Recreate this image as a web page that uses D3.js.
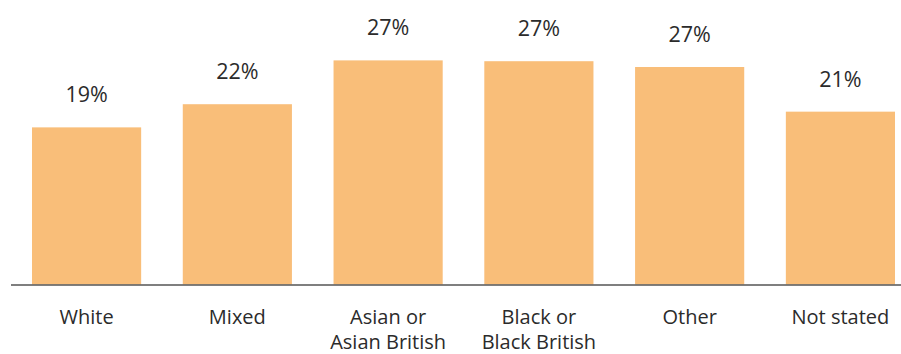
<!DOCTYPE html>
<html><head><meta charset="utf-8">
<script src="https://cdn.jsdelivr.net/npm/d3@7/dist/d3.min.js"></script>
<style>
html,body{margin:0;padding:0;background:#fff;}
svg{display:block;}
text{font-family:"Open Sans","Noto Sans",sans-serif;fill:#2b2b2b;}
</style></head>
<body><svg id="chart" width="901" height="354"></svg>
<script>
const categories = [["White"], ["Mixed"], ["Asian or", "Asian British"], ["Black or", "Black British"], ["Other"], ["Not stated"]];
const values = [19.0, 21.8, 27.1, 27.0, 26.3, 20.9];
const valueLabels = ["19%", "22%", "27%", "27%", "27%", "21%"];

const W = 901, H = 354;
const svg = d3.select("#chart");
const keys = categories.map(c => c.join(" "));

const x = d3.scaleBand().domain(keys).range([32, 895]).paddingInner(0.276).paddingOuter(0);
const y = d3.scaleLinear().domain([0, 30]).range([284.5, 284.5 - 248.1]);

svg.selectAll("rect.bar").data(values).join("rect")
  .attr("class", "bar")
  .attr("x", (d, i) => x(keys[i]))
  .attr("width", x.bandwidth())
  .attr("y", d => y(d))
  .attr("height", d => y(0) - y(d))
  .attr("fill", "#F9BE79");

svg.selectAll("text.val").data(values).join("text")
  .attr("class", "val")
  .attr("x", (d, i) => x(keys[i]) + x.bandwidth() / 2)
  .attr("y", d => y(d) - 25)
  .attr("text-anchor", "middle")
  .attr("font-size", 21.5)
  .text((d, i) => valueLabels[i]);

// axis line
svg.append("line").attr("x1", 11).attr("x2", W).attr("y1", 285).attr("y2", 285)
  .attr("stroke", "#555").attr("stroke-width", 1.3);

const xAxis = svg.append("g").attr("transform", "translate(0,285)")
  .call(d3.axisBottom(x).tickSize(0).tickFormat(""));
xAxis.select(".domain").remove();
xAxis.selectAll(".tick").each(function(d, i) {
  const t = d3.select(this).append("text")
    .attr("text-anchor", "middle").attr("font-size", 20).attr("y", 39);
  categories[i].forEach((line, j) => {
    t.append("tspan").attr("x", 0).attr("dy", j === 0 ? 0 : 25).text(line);
  });
});
</script></body></html>
